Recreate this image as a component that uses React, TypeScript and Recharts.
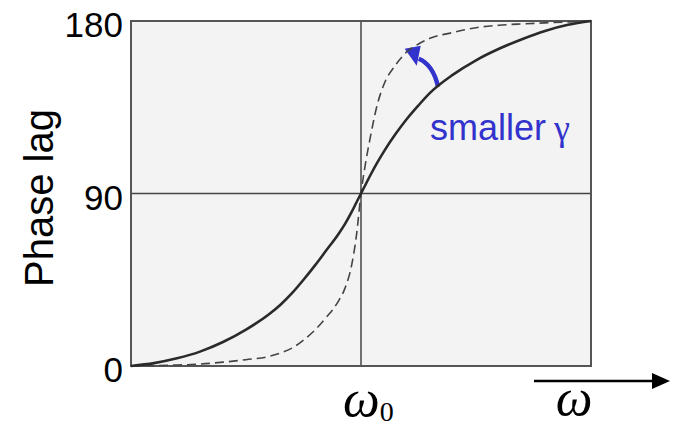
import { LineChart, Line, XAxis, YAxis, CartesianGrid, ReferenceArea, Customized } from "recharts";

// omega in units of omega0 (1 = resonance)
const omega = [
  0, 0.1, 0.2, 0.3, 0.4, 0.5, 0.6, 0.65, 0.7, 0.75, 0.8, 0.85, 0.9, 0.93, 0.96, 0.98, 1,
  1.02, 1.04, 1.07, 1.1, 1.15, 1.2, 1.25, 1.3, 1.4, 1.5, 1.6, 1.7, 1.8, 1.9, 2,
];
// phase lag, degrees
const lagWide = [
  0, 1.5, 4, 7.5, 12.5, 19, 27, 32, 38, 45, 52.5, 60.5, 68.5, 74, 80.5, 85.3, 90,
  94.7, 99.4, 106, 112, 121, 129, 136, 142.5, 152, 159.5, 165.5, 170.5, 174.8, 178, 180,
];
const lagNarrow = [
  0, 0.2, 0.5, 1, 2, 3.3, 5, 6.8, 9.3, 13.5, 18.8, 25.5, 33.5, 40.5, 53, 68, 90,
  106, 119, 136, 147, 157, 164, 168, 171, 174, 176.5, 177.8, 178.5, 179, 179.5, 180,
];
const yTicks = [0, 90, 180];
const xTicks = [1];

const data = omega.map((w, i) => ({ w, wide: lagWide[i], narrow: lagNarrow[i] }));

const W = 675;
const H = 427;
const AXIS_W = 131;
const AXIS_H = 61;
const M = { top: 21, right: 84, bottom: 0, left: 0 };
const X0 = M.left + AXIS_W;
const X1 = W - M.right;
const Y0 = M.top;
const Y1 = H - M.bottom - AXIS_H;
const px = (w: number) => X0 + (w / 2) * (X1 - X0);
const py = (v: number) => Y1 - (v / 180) * (Y1 - Y0);

const BLUE = "#3232cc";

function YTick({ x, y, payload }: any) {
  return (
    <text x={x} y={y + 16} textAnchor="end" fontSize={35} fontFamily="Liberation Sans, Arial" fill="#000">
      {payload.value}
    </text>
  );
}

function XTick({ x }: any) {
  return (
    <text x={x - 18} y={Y1 + 50} fontFamily="Liberation Serif, Times New Roman" fill="#000">
      <tspan fontSize={52} fontStyle="italic">ω</tspan>
      <tspan fontSize={28} dy={5}>0</tspan>
    </text>
  );
}

function Annotations() {
  // blue arrow: from the solid curve up toward the dashed one
  const tx = px(1.335);
  const ty = py(145.7);
  const hx = px(1.19);
  const hy = py(165.5);
  return (
    <g>
      <text
        x={53}
        y={198}
        transform="rotate(-90, 53, 198)"
        textAnchor="middle"
        fontSize={40}
        fontFamily="Liberation Sans, Arial"
        fill="#000"
      >
        Phase lag
      </text>
      <path d={`M ${tx} ${ty} Q ${tx - 5} ${ty - 22} ${hx + 14} ${hy + 10}`} stroke={BLUE} strokeWidth={4.5} fill="none" />
      <polygon points={`${hx},${hy} ${hx + 16},${hy - 3} ${hx + 12},${hy + 17}`} fill={BLUE} />
      <text x={430} y={140} fontSize={36} fontFamily="Liberation Sans, Arial" fill={BLUE}>
        smaller
        <tspan fontSize={36} fontFamily="Liberation Serif, Times New Roman" dx={8}>γ</tspan>
      </text>
      <line x1={534} y1={381} x2={655} y2={381} stroke="#000" strokeWidth={2.5} />
      <polygon points="652,373 670,381 652,389" fill="#000" />
      <text x={574} y={415} textAnchor="middle" fontSize={52} fontStyle="italic" fontFamily="Liberation Serif, Times New Roman" fill="#000">
        ω
      </text>
    </g>
  );
}

export default function App() {
  return (
    <div style={{ position: "absolute", left: 0, top: 0, background: "#fff" }}>
      <LineChart width={W} height={H} data={data} margin={M}>
        <CartesianGrid fill="#f3f3f3" fillOpacity={1} stroke="#444" strokeWidth={1.5} />
        <XAxis
          dataKey="w"
          type="number"
          domain={[0, 2]}
          ticks={xTicks}
          axisLine={false}
          tickLine={false}
          height={AXIS_H}
          tick={<XTick />}
        />
        <YAxis
          type="number"
          domain={[0, 180]}
          ticks={yTicks}
          axisLine={false}
          tickLine={false}
          width={AXIS_W}
          tick={<YTick />}
        />
        <Customized component={<Annotations />} />
        <ReferenceArea x1={0} x2={2} y1={0} y2={180} fill="none" stroke="#555" strokeWidth={2} />
        <Line
          type="monotone"
          dataKey="narrow"
          stroke="#444"
          strokeWidth={1.6}
          strokeDasharray="9 5"
          dot={false}
          isAnimationActive={false}
        />
        <Line type="monotone" dataKey="wide" stroke="#2a2a2a" strokeWidth={2.6} dot={false} isAnimationActive={false} />
      </LineChart>
    </div>
  );
}
